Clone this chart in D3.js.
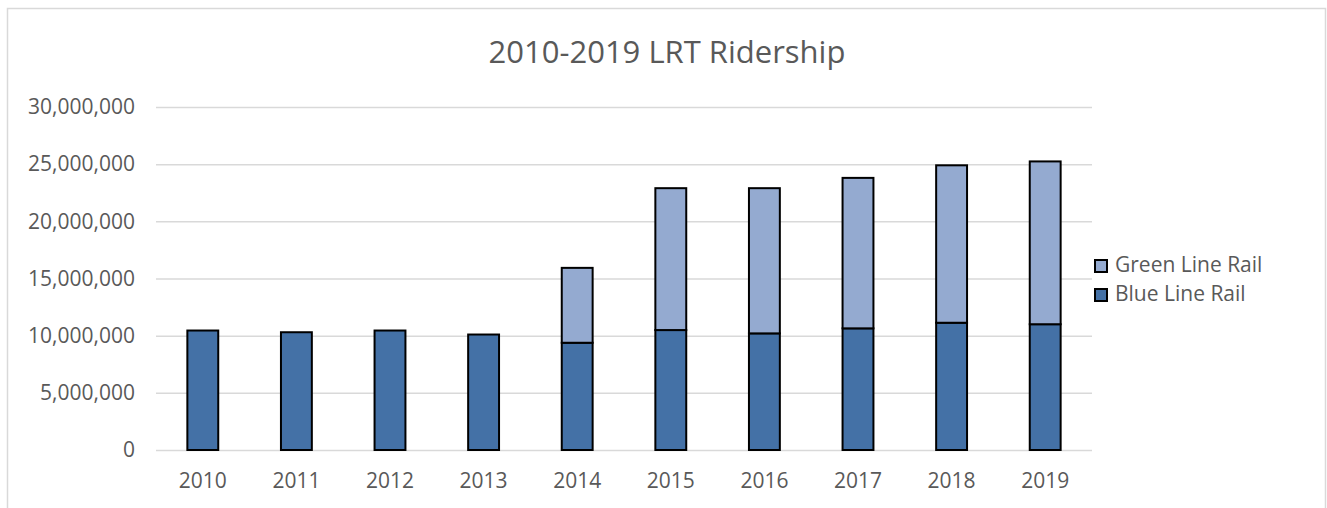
<!DOCTYPE html>
<html>
<head>
<meta charset="utf-8">
<script src="https://cdn.jsdelivr.net/npm/d3@7"></script>
<style>
  body { margin: 0; background: #fff; }
  svg { display: block; }
</style>
</head>
<body>
<div id="chart"></div>
<script>
// chart values
const years = ["2010", "2011", "2012", "2013", "2014", "2015", "2016", "2017", "2018", "2019"];
const blueLine = [10450000, 10300000, 10450000, 10100000, 9380000, 10490000, 10200000, 10640000, 11130000, 11000000];
const greenLine = [0, 0, 0, 0, 6550000, 12410000, 12700000, 13160000, 13770000, 14240000];
const yTicks = [0, 5000000, 10000000, 15000000, 20000000, 25000000, 30000000];
const seriesNames = ["Blue Line Rail", "Green Line Rail"];

function drawChart() {
  const W = 1327, H = 508;
  const margin = { top: 107, right: 235, bottom: 58, left: 156 },
    width = W - margin.left - margin.right,
    height = H - margin.top - margin.bottom;

  const font = "'Open Sans', sans-serif";

  const root = d3.select("#chart")
    .append("svg")
    .attr("width", W)
    .attr("height", H)
    .attr("style", "font-family:" + font);

  // chart frame
  root.append("rect")
    .attr("x", 7.5).attr("y", 8.5)
    .attr("width", 1318).attr("height", 520)
    .attr("fill", "none")
    .attr("stroke", "#d9d9d9")
    .attr("stroke-width", 1.5);

  root.append("text")
    .attr("x", 667)
    .attr("y", 63)
    .attr("text-anchor", "middle")
    .attr("font-size", 31)
    .attr("fill", "#595959")
    .text("2010-2019 LRT Ridership");

  const svg = root.append("g")
    .attr("transform", `translate(${margin.left},${margin.top})`);

  const x = d3.scaleBand()
    .domain(years)
    .range([0, width])
    .paddingInner(0.67)
    .paddingOuter(0.335);

  const y = d3.scaleLinear()
    .domain([0, 30000000])
    .range([height, 0]);

  // gridlines
  const yGrid = svg.append("g")
    .call(d3.axisLeft(y).tickValues(yTicks).tickSize(-width).tickFormat(""));
  yGrid.select(".domain").remove();
  yGrid.selectAll(".tick line")
    .attr("stroke", "#d9d9d9")
    .attr("stroke-width", 1.5);

  // y axis labels
  const yAxis = svg.append("g")
    .call(d3.axisLeft(y).tickValues(yTicks).tickSize(0).tickPadding(21).tickFormat(d3.format(",")));
  yAxis.select(".domain").remove();
  yAxis.attr("font-family", font).attr("font-size", 21);
  yAxis.selectAll("text").attr("fill", "#595959");

  // x axis labels
  const xAxis = svg.append("g")
    .attr("transform", `translate(0,${height})`)
    .call(d3.axisBottom(x).tickSize(0).tickPadding(23));
  xAxis.select(".domain").remove();
  xAxis.attr("font-family", font).attr("font-size", 21);
  xAxis.selectAll("text").attr("fill", "#595959");

  // stacked bars
  const table = years.map((yr, i) => ({ year: yr, blue: blueLine[i], green: greenLine[i] }));
  const stack = d3.stack().keys(["blue", "green"])(table);
  const colors = { blue: "#4471a6", green: "#94aad0" };

  svg.append("g")
    .selectAll("g")
    .data(stack)
    .join("g")
    .attr("fill", d => colors[d.key])
    .selectAll("rect")
    .data(d => d.filter(p => p[1] > p[0]))
    .join("rect")
    .attr("x", d => x(d.data.year))
    .attr("y", d => y(d[1]))
    .attr("width", x.bandwidth())
    .attr("height", d => y(d[0]) - y(d[1]))
    .attr("stroke", "#000")
    .attr("stroke-width", 2);

  // legend
  const legendItems = [
    { name: seriesNames[1], color: colors.green },
    { name: seriesNames[0], color: colors.blue }
  ];
  const legend = root.append("g")
    .attr("transform", "translate(1095,260)");
  const li = legend.selectAll("g")
    .data(legendItems)
    .join("g")
    .attr("transform", (d, i) => `translate(0,${i * 29})`);
  li.append("rect")
    .attr("width", 12).attr("height", 12)
    .attr("fill", d => d.color)
    .attr("stroke", "#000")
    .attr("stroke-width", 2);
  li.append("text")
    .attr("x", 20)
    .attr("y", 6)
    .attr("dominant-baseline", "middle")
    .attr("font-size", 21)
    .attr("fill", "#595959")
    .text(d => d.name);
}

drawChart();
</script>
</body>
</html>
